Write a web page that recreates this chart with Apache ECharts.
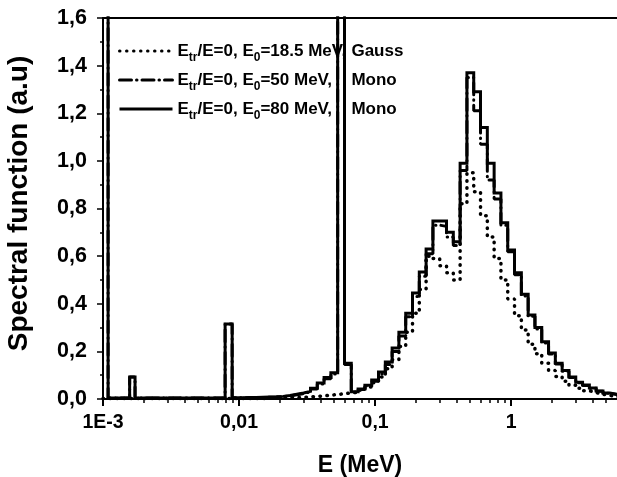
<!DOCTYPE html>
<html>
<head>
<meta charset="utf-8">
<script src="https://cdn.jsdelivr.net/npm/echarts@6/dist/echarts.min.js"></script>
<style>
  html, body { margin: 0; padding: 0; background: #fff; }
  #chart { width: 617px; height: 477px; }
</style>
</head>
<body>
<div id="chart"></div>
<script>
// Histogram bin edges, E in MeV (62 bins)
const binEdges = [
  0.001, 0.00109, 0.00157, 0.00172, 0.0079, 0.0089,
  0.01059, 0.01189, 0.01334, 0.01496, 0.01679, 0.01884, 0.02113, 0.02371, 0.02661, 0.02985,
  0.0335, 0.03758, 0.04217, 0.04732, 0.05309, 0.05957, 0.06683, 0.07499, 0.08414, 0.09441,
  0.1059, 0.1189, 0.1334, 0.1496, 0.1679, 0.1884, 0.2113, 0.2371, 0.2661, 0.2985,
  0.335, 0.3758, 0.4217, 0.4732, 0.5309, 0.5957, 0.6683, 0.7499, 0.8414, 0.9441,
  1.059, 1.189, 1.334, 1.496, 1.679, 1.884, 2.113, 2.371, 2.661, 2.985,
  3.35, 3.758, 4.217, 4.732, 5.309, 5.957, 6.683
];

// Spectral function per bin, E_tr/E=0, E0=18.5 MeV, Gauss
const gauss185 = [
  0.002, 0.002, 0.002, 0.002, 0.002, 0.002,
  0.002, 0.002, 0.002, 0.003, 0.003, 0.004, 0.005, 0.006, 0.007, 0.009,
  0.011, 0.013, 0.016, 0.019, 0.022, 0.026, 0.028, 0.037, 0.05,
  0.068, 0.092, 0.127, 0.165, 0.22, 0.28, 0.36, 0.46, 0.60, 0.59, 0.56, 0.53, 0.50, 0.82,
  0.95, 0.87, 0.77, 0.68, 0.59, 0.50, 0.42, 0.35, 0.29, 0.23, 0.19, 0.15,
  0.12, 0.095, 0.075, 0.058, 0.045, 0.035, 0.027, 0.02, 0.015, 0.011, 0.008
];

// E_tr/E=0, E0=50 MeV, Mono
const mono50 = [
  9, 0.004, 0.092, 0.004, 0.315, 0.005,
  0.005, 0.006, 0.006, 0.007, 0.008, 0.01, 0.013, 0.018, 0.023, 0.03,
  0.042, 0.063, 0.085, 0.105, 9, 0.145, 0.028, 0.04, 0.055,
  0.075, 0.105, 0.145, 0.2, 0.265, 0.345, 0.43, 0.515, 0.61, 0.73, 0.725, 0.68, 0.645, 0.96,
  1.35, 1.21, 1.07, 0.92, 0.84, 0.73, 0.618, 0.522, 0.433, 0.347, 0.294, 0.235,
  0.189, 0.147, 0.117, 0.09, 0.068, 0.057, 0.045, 0.033, 0.024, 0.019, 0.014
];

// E_tr/E=0, E0=80 MeV, Mono
const mono80 = [
  9, 0.004, 0.092, 0.004, 0.315, 0.005,
  0.006, 0.006, 0.007, 0.008, 0.009, 0.011, 0.015, 0.02, 0.025, 0.032,
  0.045, 0.067, 0.09, 0.11, 9, 0.15, 0.03, 0.042, 0.058,
  0.08, 0.113, 0.155, 0.214, 0.28, 0.36, 0.445, 0.533, 0.63, 0.748, 0.748, 0.70, 0.66, 0.99,
  1.37, 1.29, 1.14, 0.99, 0.865, 0.74, 0.626, 0.53, 0.44, 0.353, 0.30, 0.24,
  0.193, 0.15, 0.12, 0.092, 0.07, 0.059, 0.046, 0.034, 0.025, 0.02, 0.015
];

const xMajorTicks = [0.001, 0.01, 0.1, 1];
const xTickLabels = ['1E-3', '0,01', '0,1', '1'];
const xMinorTicks = [
  0.002, 0.003, 0.004, 0.005, 0.006, 0.007, 0.008, 0.009,
  0.02, 0.03, 0.04, 0.05, 0.06, 0.07, 0.08, 0.09,
  0.2, 0.3, 0.4, 0.5, 0.6, 0.7, 0.8, 0.9,
  2, 3, 4, 5
];
const xMin = 0.001, xMax = 6.0;

// legend: E0 value and spectrum kind per curve
const legendE0 = ['18.5', '50', '80'];
const legendKind = ['Gauss', 'Mono', 'Mono'];
const seriesNames = ['gauss185', 'mono50', 'mono80'];

function stepPoints(values) {
  const pts = values.map((v, i) => [binEdges[i], v]);
  pts.push([binEdges[values.length], values[values.length - 1]]);
  return pts;
}

const FONT = 'Liberation Sans, Arial, sans-serif';
const chart = echarts.init(document.getElementById('chart'), null, { renderer: 'canvas' });

const richLegend = {
  n: { fontFamily: FONT, fontWeight: 'bold', fontSize: 17, lineHeight: 24, color: '#000' },
  s: { fontFamily: FONT, fontWeight: 'bold', fontSize: 12, lineHeight: 24, padding: [14, 0, 0, 0], color: '#000' },
  e: { fontFamily: FONT, fontWeight: 'bold', fontSize: 17, lineHeight: 24, width: 91, color: '#000' }
};

chart.setOption({
  animation: false,
  backgroundColor: '#fff',
  grid: { left: 103, right: 0, top: 18, bottom: 78, containLabel: false, outerBoundsMode: 'none' },
  legend: {
    orient: 'vertical',
    left: 113,
    top: 33,
    itemWidth: 53,
    itemHeight: 14,
    itemGap: 3,
    data: seriesNames,
    itemStyle: { opacity: 0 },
    lineStyle: { width: 3 },
    textStyle: { rich: richLegend },
    formatter: function (name) {
      const i = seriesNames.indexOf(name);
      return '{n|E}{s|tr}{n|/E=0, E}{s|0}{e|=' + legendE0[i] + ' MeV,}{n|' + legendKind[i] + '}';
    }
  },
  xAxis: [
    {
      type: 'log', logBase: 10, min: xMin, max: xMax, position: 'bottom',
      name: 'E (MeV)', nameLocation: 'middle', nameGap: 55,
      nameTextStyle: { fontFamily: FONT, fontWeight: 'bold', fontSize: 23, color: '#000' },
      axisLine: { show: true, lineStyle: { color: '#000', width: 2 } },
      axisTick: { show: true, length: 7, customValues: xMajorTicks, lineStyle: { color: '#000', width: 2 } },
      minorTick: { show: false },
      splitLine: { show: false },
      axisLabel: {
        show: true, margin: 14, customValues: xMajorTicks,
        fontFamily: FONT, fontWeight: 'bold', fontSize: 19.5, color: '#000',
        formatter: function (v) {
          let best = 0;
          xMajorTicks.forEach((t, i) => { if (Math.abs(Math.log10(t) - Math.log10(v)) < Math.abs(Math.log10(xMajorTicks[best]) - Math.log10(v))) best = i; });
          return xTickLabels[best];
        }
      }
    },
    {
      type: 'log', logBase: 10, min: xMin, max: xMax, position: 'bottom',
      axisLine: { show: false },
      axisTick: { show: true, length: 4, customValues: xMinorTicks, lineStyle: { color: '#000', width: 1.5 } },
      axisLabel: { show: false },
      splitLine: { show: false }
    },
    {
      type: 'log', logBase: 10, min: xMin, max: xMax, position: 'top',
      axisLine: { show: true, lineStyle: { color: '#000', width: 2 } },
      axisTick: { show: false },
      axisLabel: { show: false },
      splitLine: { show: false }
    }
  ],
  yAxis: {
    type: 'value', min: 0, max: 1.6, interval: 0.2,
    name: 'Spectral function (a.u)', nameLocation: 'middle', nameGap: 70,
    nameTextStyle: { fontFamily: FONT, fontWeight: 'bold', fontSize: 28, color: '#000', padding: [0, 0, 0, 10] },
    axisLine: { show: true, lineStyle: { color: '#000', width: 2 } },
    axisTick: { show: true, length: 6, lineStyle: { color: '#000', width: 1.5 } },
    minorTick: { show: true, splitNumber: 2, length: 3, lineStyle: { color: '#000', width: 1.5 } },
    splitLine: { show: false },
    axisLabel: {
      margin: 16, fontFamily: FONT, fontWeight: 'bold', fontSize: 21.5, color: '#000',
      formatter: v => v.toFixed(1).replace('.', ',')
    }
  },
  series: [
    {
      name: 'mono80', type: 'line', step: 'end', symbol: 'none', clip: true, z: 2,
      data: stepPoints(mono80),
      lineStyle: { color: '#000', width: 3, type: 'solid', join: 'miter' }
    },
    {
      name: 'mono50', type: 'line', step: 'end', symbol: 'none', clip: true, z: 3,
      data: stepPoints(mono50),
      lineStyle: { color: '#000', width: 3, type: [12, 5, 0.5, 5], cap: 'round' }
    },
    {
      name: 'gauss185', type: 'line', step: 'end', symbol: 'none', clip: true, z: 4,
      data: stepPoints(gauss185),
      lineStyle: { color: '#000', width: 3.5, type: [0.5, 6.5], cap: 'round' }
    }
  ]
});
</script>
</body>
</html>
